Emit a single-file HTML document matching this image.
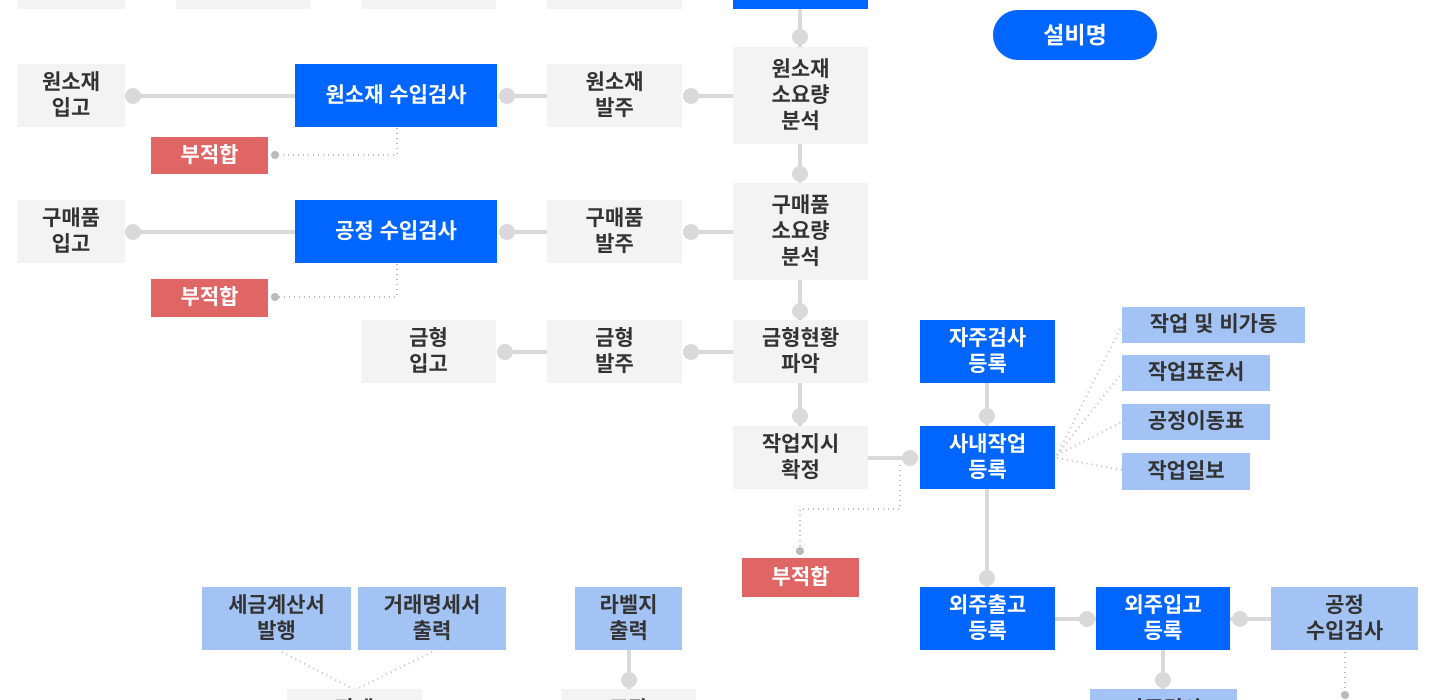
<!DOCTYPE html>
<html style="margin:0;width:1434px;height:700px;overflow:hidden"><head><meta charset="utf-8"><style>
body{margin:0;width:1434px;height:700px;position:relative;overflow:hidden;background:#fff;font-family:"Liberation Sans","Noto Sans CJK KR",sans-serif;}
.b{position:absolute;display:flex;align-items:center;justify-content:center;text-align:center;font-size:21px;font-weight:bold;line-height:26px;color:#333;background:#f3f3f3;box-sizing:border-box}
.bl{background:#0066ff;color:#fff}
.lb{background:#a4c3f5;color:#333}
.rd{background:#e06666;color:#fff}
.cl{height:11px;overflow:hidden;align-items:flex-start;padding-top:8px}
svg{position:absolute;left:0;top:0}
</style></head><body>
<svg width="1434" height="700">
<g stroke="#d9d9d9" stroke-width="4" fill="none">
<line x1="800" y1="9" x2="800" y2="47"/><line x1="800" y1="144" x2="800" y2="183"/><line x1="800" y1="280" x2="800" y2="320"/><line x1="800" y1="383" x2="800" y2="426"/>
<line x1="133" y1="96" x2="295" y2="96"/><line x1="507" y1="96" x2="547" y2="96"/><line x1="691" y1="96" x2="733" y2="96"/>
<line x1="133" y1="232" x2="295" y2="232"/><line x1="507" y1="232" x2="547" y2="232"/><line x1="691" y1="232" x2="733" y2="232"/>
<line x1="505" y1="352" x2="547" y2="352"/><line x1="691" y1="352" x2="733" y2="352"/>
<line x1="868" y1="458" x2="910" y2="458"/><line x1="987" y1="383" x2="987" y2="426"/>
<line x1="987" y1="489" x2="987" y2="587"/><line x1="1055" y1="619" x2="1096" y2="619"/><line x1="1230" y1="619" x2="1271" y2="619"/>
<line x1="1163" y1="650" x2="1163" y2="690"/><line x1="629" y1="650" x2="629" y2="690"/>
</g>
<g fill="#d9d9d9">
<circle cx="800" cy="37" r="8"/><circle cx="800" cy="174" r="8"/><circle cx="800" cy="311" r="8"/><circle cx="800" cy="416" r="8"/>
<circle cx="133" cy="96" r="8"/><circle cx="507" cy="96" r="8"/><circle cx="691" cy="96" r="8"/>
<circle cx="133" cy="232" r="8"/><circle cx="507" cy="232" r="8"/><circle cx="691" cy="232" r="8"/>
<circle cx="505" cy="352" r="8"/><circle cx="691" cy="352" r="8"/>
<circle cx="910" cy="458" r="8"/><circle cx="987" cy="416" r="8"/><circle cx="987" cy="578" r="8"/>
<circle cx="1087" cy="619" r="8"/><circle cx="1240" cy="619" r="8"/><circle cx="1163" cy="680" r="8"/><circle cx="629" cy="680" r="8"/>
</g>
<g stroke="#bbb" stroke-width="2" stroke-dasharray="1 4" fill="none">
<polyline points="397,128 397,155 275,155"/><polyline points="397,264 397,297 275,297"/>
<polyline points="900,465 900,509 800,509 800,551"/>
<line x1="1057" y1="455" x2="1122" y2="325"/><line x1="1057" y1="455" x2="1122" y2="373"/><line x1="1057" y1="455" x2="1122" y2="422"/><line x1="1057" y1="458" x2="1122" y2="470"/>
<line x1="282" y1="652" x2="355" y2="690"/><line x1="432" y1="652" x2="355" y2="690"/>
<line x1="1345" y1="652" x2="1345" y2="693"/>
</g>
<g fill="#bbb"><circle cx="275" cy="155" r="4"/><circle cx="275" cy="297" r="4"/><circle cx="800" cy="551" r="4"/><circle cx="1345" cy="695" r="4"/></g>
</svg>
<div class="b" style="left:17px;top:0;width:108px;height:9px"></div>
<div class="b" style="left:176px;top:0;width:135px;height:9px"></div>
<div class="b" style="left:361px;top:0;width:135px;height:9px"></div>
<div class="b" style="left:547px;top:0;width:135px;height:9px"></div>
<div class="b bl" style="left:733px;top:0;width:135px;height:9px"></div>
<div class="b bl" style="left:993px;top:10px;width:164px;height:50px;border-radius:25px;font-size:23px">설비명</div>

<div class="b" style="left:17px;top:64px;width:108px;height:63px">원소재<br>입고</div>
<div class="b bl" style="left:295px;top:64px;width:202px;height:63px">원소재 수입검사</div>
<div class="b" style="left:547px;top:64px;width:135px;height:63px">원소재<br>발주</div>
<div class="b" style="left:733px;top:47px;width:135px;height:97px">원소재<br>소요량<br>분석</div>
<div class="b rd" style="left:151px;top:137px;width:117px;height:37px">부적합</div>

<div class="b" style="left:17px;top:200px;width:108px;height:63px">구매품<br>입고</div>
<div class="b bl" style="left:295px;top:200px;width:202px;height:63px">공정 수입검사</div>
<div class="b" style="left:547px;top:200px;width:135px;height:63px">구매품<br>발주</div>
<div class="b" style="left:733px;top:183px;width:135px;height:97px">구매품<br>소요량<br>분석</div>
<div class="b rd" style="left:151px;top:279px;width:117px;height:38px">부적합</div>

<div class="b" style="left:361px;top:320px;width:135px;height:63px">금형<br>입고</div>
<div class="b" style="left:547px;top:320px;width:135px;height:63px">금형<br>발주</div>
<div class="b" style="left:733px;top:320px;width:135px;height:63px">금형현황<br>파악</div>
<div class="b" style="left:733px;top:426px;width:135px;height:63px">작업지시<br>확정</div>
<div class="b bl" style="left:920px;top:320px;width:135px;height:63px">자주검사<br>등록</div>
<div class="b bl" style="left:920px;top:426px;width:135px;height:63px">사내작업<br>등록</div>
<div class="b rd" style="left:742px;top:558px;width:117px;height:39px">부적합</div>

<div class="b lb" style="left:1122px;top:307px;width:183px;height:36px">작업 및 비가동</div>
<div class="b lb" style="left:1122px;top:355px;width:148px;height:36px">작업표준서</div>
<div class="b lb" style="left:1122px;top:404px;width:148px;height:36px">공정이동표</div>
<div class="b lb" style="left:1122px;top:453px;width:128px;height:37px">작업일보</div>

<div class="b bl" style="left:920px;top:587px;width:135px;height:63px">외주출고<br>등록</div>
<div class="b bl" style="left:1096px;top:587px;width:134px;height:63px">외주입고<br>등록</div>
<div class="b lb" style="left:1271px;top:587px;width:147px;height:63px">공정<br>수입검사</div>
<div class="b lb cl" style="left:1090px;top:689px;width:147px">자주검사</div>

<div class="b lb" style="left:202px;top:587px;width:149px;height:63px">세금계산서<br>발행</div>
<div class="b lb" style="left:358px;top:587px;width:148px;height:63px">거래명세서<br>출력</div>
<div class="b lb" style="left:575px;top:587px;width:107px;height:63px">라벨지<br>출력</div>
<div class="b cl" style="left:287px;top:689px;width:135px">판매</div>
<div class="b cl" style="left:561px;top:689px;width:135px">포장</div>
</body></html>
